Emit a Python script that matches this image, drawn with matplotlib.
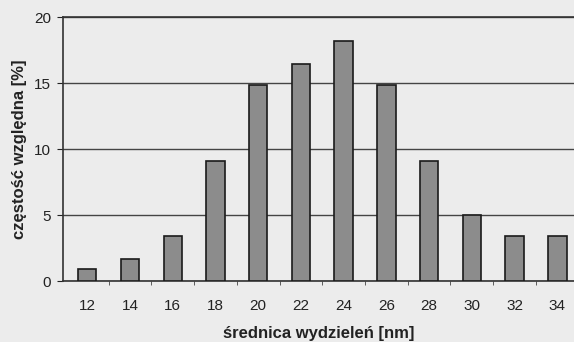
import numpy as np
import matplotlib
matplotlib.use('Agg')
import matplotlib.pyplot as plt

plt.rcParams['font.family'] = ['Liberation Sans', 'DejaVu Sans']

# --------- data
diameters = [12, 14, 16, 18, 20, 22, 24, 26, 28, 30, 32, 34]
freq = [0.9, 1.7, 3.4, 9.1, 14.9, 16.5, 18.2, 14.9, 9.1, 5.0, 3.4, 3.4]

bg = '#ececec'
fig = plt.figure(figsize=(5.74, 3.42), dpi=100, facecolor=bg)
ax = fig.add_axes([63.3 / 574, 0.178, 1 - 63.3 / 574, 0.949 - 0.178])
ax.set_facecolor(bg)

x = np.arange(len(diameters))
ax.bar(x, freq, width=0.43, color='#8c8c8c', edgecolor='#1a1a1a', linewidth=1.2, zorder=3)

ax.set_xlim(-0.56, 11.39)
ax.set_ylim(0, 20)
ax.set_yticks([0, 5, 10, 15, 20])
ax.yaxis.grid(True, color='#444444', linewidth=1.0, zorder=0)
ax.set_xticks(x)
ax.set_xticklabels([str(d) for d in diameters])
ax.set_xticks(x[:-1] + 0.5, minor=True)
ax.tick_params(axis='x', which='major', length=0, pad=13, labelsize=11, colors='#222222')
ax.tick_params(axis='x', which='minor', length=3, color='#444444')
ax.tick_params(axis='y', length=4, pad=5, labelsize=11, colors='#222222')

for s in ['right']:
    ax.spines[s].set_visible(False)
for s in ['left', 'bottom', 'top']:
    ax.spines[s].set_color('#333333')
    ax.spines[s].set_linewidth(1.2)

ax.set_xlabel('średnica wydzieleń [nm]', fontsize=12, fontweight='bold', color='#222222', labelpad=9)
ax.set_ylabel('częstość względna [%]', fontsize=12, fontweight='bold', color='#222222', labelpad=5)

fig.savefig('out.png', dpi=100, facecolor=bg)
